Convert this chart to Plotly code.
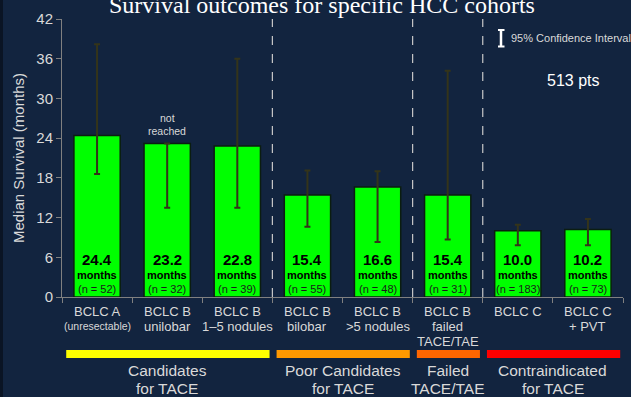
import plotly.graph_objects as go

# Cohort data
cohort_lines = [
    ["BCLC A", "(unresectable)"],
    ["BCLC B", "unilobar"],
    ["BCLC B", "1\u20135 nodules"],
    ["BCLC B", "bilobar"],
    ["BCLC B", ">5 nodules"],
    ["BCLC B", "failed", "TACE/TAE"],
    ["BCLC C"],
    ["BCLC C", "+ PVT"],
]
median_months = [24.4, 23.2, 22.8, 15.4, 16.6, 15.4, 10.0, 10.2]
ci_upper = [38.2, None, 36.0, 19.1, 19.0, 34.2, 10.9, 11.8]
ci_lower = [18.6, 13.5, 13.5, 10.6, 8.3, 8.7, 7.8, 7.8]
n_patients = [52, 32, 39, 55, 48, 31, 183, 73]

y_ticks = [0, 6, 12, 18, 24, 30, 36, 42]

# Treatment-suitability groups: (label lines, first cohort, last cohort, colour)
group_labels = [["Candidates", "for TACE"], ["Poor Candidates", "for TACE"],
                ["Failed", "TACE/TAE"], ["Contraindicated", "for TACE"]]
group_start = [0, 3, 5, 6]
group_end = [2, 4, 5, 7]
group_colors = ["#ffff00", "#ff9900", "#ff6600", "#ff0000"]

BG = "#12243f"
FONT = "Liberation Sans, Arial, sans-serif"
TXT = "#d9d9d9"

x = list(range(len(median_months)))
err_plus = [(u - m) if u is not None else 0 for u, m in zip(ci_upper, median_months)]
err_minus = [m - l for m, l in zip(median_months, ci_lower)]

fig = go.Figure()
fig.add_trace(go.Bar(
    x=x, y=median_months, width=0.66,
    marker=dict(color="#00ff00", line=dict(color="#0b1d10", width=1.5)),
    error_y=dict(type="data", symmetric=False, array=err_plus, arrayminus=err_minus,
                 color="#34341a", thickness=2, width=3),
    hoverinfo="skip",
))

# pixel -> paper helpers for the plot box (top 19px, bottom 297px, left 62px, right 623px)
def py(p):
    return (297 - p) / 278.0

def px(p):
    return (p - 62) / 561.0

ann = []
shapes = []

def label(xv, yv, text, size, color, xref="x", xanchor="center", family=FONT):
    ann.append(dict(x=xv, y=yv, xref=xref, yref="paper", text=text, showarrow=False,
                    xanchor=xanchor, yanchor="middle",
                    font=dict(family=family, size=size, color=color)))

# Value labels inside bars
for i, (m, n) in enumerate(zip(median_months, n_patients)):
    label(i, py(259), f"<b>{m:.1f}</b>", 15, "#000")
    label(i, py(275), "<b>months</b>", 11, "#000")
    label(i, py(288.5), f"(n = {n})", 11, "#1a1a1a")

# Cohort labels below axis
for i, lines in enumerate(cohort_lines):
    for j, t in enumerate(lines):
        size = 10.5 if t.startswith("(") else 13
        label(i, py(311 + 15 * j), t, size, TXT)

# Group bars and labels
for lbl, s, e, c in zip(group_labels, group_start, group_end, group_colors):
    shapes.append(dict(type="rect", xref="x", yref="paper", x0=s - 0.44, x1=e + 0.46,
                       y0=py(358), y1=py(350), fillcolor=c, line=dict(width=0), layer="above"))
    for j, t in enumerate(lbl):
        label((s + e) / 2, py(370 + 18 * j), t, 15.5, TXT)

# Dashed separators between groups
for b in [2.5, 4.5, 5.5]:
    shapes.append(dict(type="line", xref="x", yref="paper", x0=b, x1=b, y0=0, y1=1,
                       line=dict(color="#c8c8c8", width=1.2, dash="dash")))

# "not reached" note for unilobar cohort
label(1, py(118), "not", 10.5, TXT)
label(1, py(131), "reached", 10.5, TXT)

# Confidence-interval key
shapes.append(dict(type="line", xref="paper", yref="paper", x0=px(501), x1=px(501),
                   y0=py(30), y1=py(46.5), line=dict(color="white", width=2.5)))
for yy in [30, 46.5]:
    shapes.append(dict(type="line", xref="paper", yref="paper", x0=px(498), x1=px(504.5),
                       y0=py(yy), y1=py(yy), line=dict(color="white", width=2)))
label(px(509), py(37.5), "95% Confidence Interval", 11, TXT, xref="paper", xanchor="left")
label(px(573), py(80), "513 pts", 16, "white", xref="paper")

# Title
label(px(322), py(5), "Survival outcomes for specific HCC cohorts", 24, "white",
      xref="paper", family="Liberation Serif, Times New Roman, serif")

# Thin dark strip on left edge
shapes.append(dict(type="rect", xref="paper", yref="paper", x0=px(0), x1=px(3),
                   y0=py(400), y1=py(-5), fillcolor="#0a1424", line=dict(width=0)))

fig.update_layout(
    width=631, height=397,
    margin=dict(l=62, r=8, t=19, b=100),
    paper_bgcolor=BG, plot_bgcolor=BG,
    showlegend=False,
    annotations=ann, shapes=shapes,
    xaxis=dict(range=[-0.5, 7.5], showticklabels=False, showgrid=False, zeroline=False,
               showline=True, linecolor="#808080", linewidth=1,
               tickmode="array", tickvals=[-0.5 + k for k in range(9)],
               ticks="outside", ticklen=5, tickcolor="#808080"),
    yaxis=dict(range=[0, 42], tickvals=y_ticks, showgrid=False, zeroline=False,
               showline=True, linecolor="#808080", linewidth=1,
               ticks="outside", ticklen=5, tickcolor="#808080",
               tickfont=dict(family=FONT, size=15, color=TXT),
               title=dict(text="Median Survival (months)", standoff=8,
                          font=dict(family=FONT, size=15, color=TXT))),
)

fig.write_html("out.html")
